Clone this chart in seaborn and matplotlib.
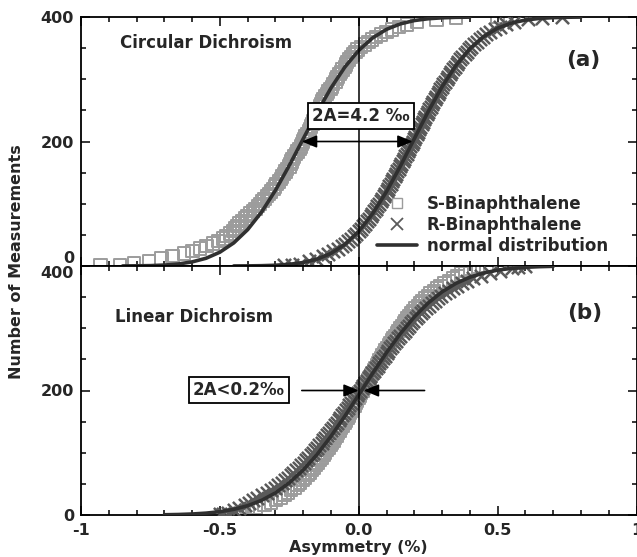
import matplotlib
matplotlib.use("Agg")
import matplotlib.pyplot as plt
import seaborn as sns
import pandas as pd
from matplotlib.lines import Line2D
from matplotlib.ticker import MultipleLocator, FixedLocator

# ---------------- data ----------------
# cumulative number of measurements (rank of the sorted value)
RANKS = [1, 2, 4, 8, 12, 16, 20, 24, 28, 32,
         36, 40, 44, 48, 52, 56, 60, 64, 68, 72,
         76, 80, 84, 88, 92, 96, 100, 104, 108, 112,
         116, 120, 124, 128, 132, 136, 140, 144, 148, 152,
         156, 160, 164, 168, 172, 176, 180, 184, 188, 192,
         196, 200, 204, 208, 212, 216, 220, 224, 228, 232,
         236, 240, 244, 248, 252, 256, 260, 264, 268, 272,
         276, 280, 284, 288, 292, 296, 300, 304, 308, 312,
         316, 320, 324, 328, 332, 336, 340, 344, 348, 352,
         356, 360, 364, 368, 372, 376, 380, 384, 388, 392,
         396, 398, 400]

# (a) circular dichroism, sorted asymmetry values (%)
CD_S = [-0.93, -0.86, -0.81, -0.755, -0.71, -0.67, -0.63, -0.598, -0.572, -0.548,
        -0.525, -0.505, -0.489, -0.476, -0.464, -0.453, -0.445, -0.437, -0.429, -0.42,
        -0.408, -0.40, -0.392, -0.381, -0.371, -0.363, -0.355, -0.347, -0.339, -0.331,
        -0.323, -0.315, -0.307, -0.302, -0.296, -0.288, -0.28, -0.276, -0.269, -0.263,
        -0.259, -0.25, -0.246, -0.242, -0.238, -0.233, -0.225, -0.221, -0.214, -0.208,
        -0.204, -0.20, -0.196, -0.192, -0.186, -0.179, -0.175, -0.171, -0.167, -0.163,
        -0.159, -0.155, -0.151, -0.147, -0.143, -0.139, -0.135, -0.131, -0.127, -0.121,
        -0.114, -0.11, -0.102, -0.097, -0.092, -0.084, -0.08, -0.076, -0.069, -0.063,
        -0.058, -0.05, -0.046, -0.042, -0.036, -0.028, -0.02, -0.012, -0.004, 0.008,
        0.023, 0.035, 0.047, 0.062, 0.08, 0.10, 0.12, 0.144, 0.174, 0.21,
        0.28, 0.35, 0.50]
CD_R = [-0.27, -0.24, -0.21, -0.18, -0.155, -0.13, -0.11, -0.092, -0.075, -0.06,
        -0.048, -0.037, -0.027, -0.018, -0.009, 0.0, 0.007, 0.015, 0.022, 0.029,
        0.036, 0.043, 0.049, 0.055, 0.061, 0.067, 0.073, 0.079, 0.084, 0.09,
        0.095, 0.10, 0.105, 0.11, 0.115, 0.12, 0.125, 0.13, 0.135, 0.139,
        0.144, 0.149, 0.153, 0.158, 0.163, 0.167, 0.172, 0.176, 0.181, 0.185,
        0.19, 0.194, 0.199, 0.203, 0.208, 0.212, 0.217, 0.222, 0.226, 0.231,
        0.235, 0.24, 0.245, 0.249, 0.254, 0.259, 0.264, 0.269, 0.273, 0.279,
        0.284, 0.289, 0.294, 0.299, 0.305, 0.31, 0.316, 0.322, 0.327, 0.333,
        0.34, 0.346, 0.352, 0.359, 0.366, 0.373, 0.381, 0.388, 0.397, 0.405,
        0.415, 0.424, 0.435, 0.446, 0.459, 0.473, 0.489, 0.508, 0.53, 0.56,
        0.61, 0.66, 0.73]

# (b) linear dichroism
LD_S = [-0.44, -0.43, -0.42, -0.40, -0.37, -0.34, -0.316, -0.298, -0.282, -0.268,
        -0.255, -0.243, -0.232, -0.221, -0.211, -0.202, -0.193, -0.185, -0.177, -0.169,
        -0.161, -0.154, -0.147, -0.14, -0.134, -0.127, -0.121, -0.114, -0.108, -0.102,
        -0.096, -0.091, -0.085, -0.079, -0.074, -0.068, -0.063, -0.057, -0.052, -0.047,
        -0.041, -0.036, -0.031, -0.026, -0.021, -0.016, -0.011, -0.006, -0.001, 0.004,
        0.009, 0.014, 0.019, 0.024, 0.029, 0.034, 0.039, 0.045, 0.05, 0.055,
        0.06, 0.065, 0.07, 0.075, 0.081, 0.086, 0.091, 0.097, 0.102, 0.108,
        0.113, 0.119, 0.125, 0.131, 0.137, 0.143, 0.149, 0.156, 0.162, 0.169,
        0.176, 0.183, 0.19, 0.197, 0.205, 0.213, 0.221, 0.23, 0.239, 0.249,
        0.259, 0.27, 0.282, 0.294, 0.308, 0.324, 0.34, 0.355, 0.37, 0.385,
        0.40, 0.43, 0.46]
LD_R = [-0.50, -0.49, -0.47, -0.45, -0.43, -0.41, -0.395, -0.38, -0.366, -0.349,
        -0.332, -0.317, -0.303, -0.29, -0.278, -0.267, -0.256, -0.245, -0.235, -0.225,
        -0.216, -0.207, -0.198, -0.189, -0.181, -0.173, -0.165, -0.157, -0.149, -0.142,
        -0.134, -0.127, -0.12, -0.113, -0.106, -0.099, -0.092, -0.086, -0.079, -0.072,
        -0.066, -0.059, -0.053, -0.046, -0.04, -0.034, -0.027, -0.021, -0.015, -0.008,
        -0.002, 0.004, 0.011, 0.017, 0.023, 0.029, 0.036, 0.042, 0.048, 0.055,
        0.061, 0.068, 0.074, 0.081, 0.087, 0.094, 0.101, 0.107, 0.114, 0.121,
        0.128, 0.135, 0.143, 0.15, 0.158, 0.165, 0.173, 0.181, 0.189, 0.197,
        0.206, 0.215, 0.223, 0.233, 0.242, 0.252, 0.263, 0.274, 0.285, 0.297,
        0.31, 0.324, 0.338, 0.354, 0.372, 0.391, 0.413, 0.439, 0.471, 0.51,
        0.55, 0.575, 0.60]

# fitted normal distribution curves (x, cumulative count)
FIT_CD_S_X = [-0.85, -0.80, -0.75, -0.70, -0.65, -0.60, -0.55, -0.50, -0.45, -0.40,
              -0.35, -0.30, -0.25, -0.20, -0.15, -0.10, -0.05, 0.00, 0.05, 0.10, 0.15,
              0.20, 0.25, 0.30, 0.35, 0.40]
FIT_CD_S_N = [0.1, 0.3, 0.6, 1.5, 3.2, 6.6, 12.4, 22.2, 37.1, 58.4, 86.6, 121.5, 161.6,
              204.3, 246.7, 286.0, 319.6, 346.4, 366.4, 380.2, 389.0, 394.3, 397.2,
              398.7, 399.5, 399.8]
FIT_CD_R_X = [-0.45, -0.40, -0.35, -0.30, -0.25, -0.20, -0.15, -0.10, -0.05, 0.00, 0.05,
              0.10, 0.15, 0.20, 0.25, 0.30, 0.35, 0.40, 0.45, 0.50, 0.55, 0.60, 0.65,
              0.70, 0.75, 0.80]
FIT_CD_R_N = [0.1, 0.2, 0.5, 1.2, 2.7, 5.6, 11.0, 20.2, 34.7, 55.8, 84.1, 119.5, 160.5,
              204.4, 248.0, 288.0, 322.2, 349.0, 368.7, 382.0, 390.3, 395.1, 397.7,
              399.0, 399.6, 399.9]
FIT_LD_X = [-0.70, -0.65, -0.60, -0.55, -0.50, -0.45, -0.40, -0.35, -0.30, -0.25, -0.20,
            -0.15, -0.10, -0.05, 0.00, 0.05, 0.10, 0.15, 0.20, 0.25, 0.30, 0.35, 0.40,
            0.45, 0.50, 0.55, 0.60, 0.65, 0.70]
FIT_LD_N = [0.4, 0.8, 1.6, 3.0, 5.3, 9.1, 14.9, 23.5, 35.5, 51.7, 72.2, 97.3, 126.5,
            158.8, 193.1, 227.6, 260.9, 291.5, 318.2, 340.6, 358.5, 372.1, 382.0, 388.8,
            393.4, 396.2, 397.9, 398.9, 399.5]

X_TICKS = [-1, -0.5, 0, 0.5, 1]
X_TICK_LABELS = ["-1", "-0.5", "0.0", "0.5", "1"]
Y_TICKS = [0, 200, 400]
Y_TICK_LABELS = ["0", "200", "400"]
LEGEND_LABELS = ["S-Binaphthalene", "R-Binaphthalene", "normal distribution"]

# ---------------- styling ----------------
sns.set_theme(style="ticks")
plt.rcParams["font.family"] = ["DejaVu Sans"]
plt.rcParams["font.weight"] = "bold"
plt.rcParams["axes.labelweight"] = "bold"

S_COLOR = "#9c9c9c"
R_COLOR = "#5a5a5a"
FIT_COLOR = "#303030"
FONT = 12

fig = plt.figure(figsize=(6.37, 5.57), dpi=100)
W = 637.0
H = 557.0
left = 81 / W
width = 555.5 / W
hgt = 249 / H
ax_a = fig.add_axes([left, 1 - 266 / H, width, hgt])
ax_b = fig.add_axes([left, 1 - 515 / H, width, hgt])


def draw_panel(ax, s_vals, r_vals, fits):
    dfs = pd.DataFrame({"x": s_vals, "n": RANKS})
    dfr = pd.DataFrame({"x": r_vals, "n": RANKS})
    sns.scatterplot(data=dfs, x="x", y="n", ax=ax, marker="s", s=80,
                    facecolor="none", edgecolor=S_COLOR, linewidth=1.4,
                    legend=False, zorder=2)
    sns.scatterplot(data=dfr, x="x", y="n", ax=ax, marker="x", s=90,
                    color=R_COLOR, linewidth=1.8, legend=False, zorder=3)
    for fx, fn in fits:
        sns.lineplot(x=fx, y=fn, ax=ax, sort=False, estimator=None,
                     color=FIT_COLOR, lw=2.6, zorder=4)
    ax.axvline(0, color="black", lw=1.1, zorder=5)
    ax.set_xlim(-1, 1)
    ax.set_ylim(0, 400)
    ax.xaxis.set_major_locator(FixedLocator(X_TICKS))
    ax.xaxis.set_minor_locator(MultipleLocator(0.1))
    ax.yaxis.set_major_locator(FixedLocator(Y_TICKS))
    ax.yaxis.set_minor_locator(MultipleLocator(50))
    ax.set_yticklabels(Y_TICK_LABELS)
    ax.tick_params(which="both", direction="in", top=True, right=True,
                   width=1.1, color="black", labelsize=11.5, pad=5)
    ax.tick_params(which="major", length=6.5)
    ax.tick_params(which="minor", length=3.5)
    for sp in ax.spines.values():
        sp.set_linewidth(1.3)
        sp.set_color("black")
    ax.set_xlabel("")
    ax.set_ylabel("")
    for lbl in ax.get_yticklabels():
        lbl.set_fontweight("bold")


draw_panel(ax_a, CD_S, CD_R, [(FIT_CD_S_X, FIT_CD_S_N), (FIT_CD_R_X, FIT_CD_R_N)])
draw_panel(ax_b, LD_S, LD_R, [(FIT_LD_X, FIT_LD_N)])

ax_a.tick_params(labelbottom=False)
ax_b.set_xticklabels(X_TICK_LABELS)
for lbl in ax_b.get_xticklabels():
    lbl.set_fontweight("bold")
ax_b.tick_params(axis="x", pad=6)
ax_a.get_yticklabels()[0].set_va("bottom")
ax_b.get_yticklabels()[-1].set_va("top")

ax_b.set_xlabel("Asymmetry (%)", fontsize=11.5, fontweight="bold", labelpad=1)
fig.text(17 / W, 1 - 262 / H, "Number of Measurements", rotation=90,
         ha="center", va="center", fontsize=11.5, fontweight="bold")

# panel texts
ax_a.text(-0.86, 358, "Circular Dichroism", fontsize=FONT, fontweight="bold",
          ha="left", va="center")
ax_b.text(-0.878, 318, "Linear Dichroism", fontsize=FONT, fontweight="bold",
          ha="left", va="center")
ax_a.text(0.745, 331, "(a)", fontsize=15.5, fontweight="bold", ha="left", va="center")
ax_b.text(0.752, 324, "(b)", fontsize=15.5, fontweight="bold", ha="left", va="center")

box = dict(boxstyle="square,pad=0.25", fc="white", ec="black", lw=1.3)
ax_a.text(0.007, 241, "2A=4.2 ‰", fontsize=FONT, fontweight="bold",
          ha="center", va="center", bbox=box, zorder=8)
ax_b.text(-0.432, 201, "2A<0.2‰", fontsize=FONT, fontweight="bold",
          ha="center", va="center", bbox=box, zorder=8)

astyle = "-|>,head_length=0.6,head_width=0.25"
ax_a.annotate("", xy=(-0.205, 200), xytext=(0.194, 200),
              arrowprops=dict(arrowstyle="<|-|>,head_length=0.6,head_width=0.25",
                              color="black", lw=1.2, shrinkA=0, shrinkB=0,
                              mutation_scale=15), zorder=7)
ax_b.annotate("", xy=(0.0, 200), xytext=(-0.205, 200),
              arrowprops=dict(arrowstyle=astyle, color="black", lw=1.2,
                              shrinkA=0, shrinkB=0, mutation_scale=15), zorder=7)
ax_b.annotate("", xy=(0.018, 200), xytext=(0.237, 200),
              arrowprops=dict(arrowstyle=astyle, color="black", lw=1.2,
                              shrinkA=0, shrinkB=0, mutation_scale=15), zorder=7)

# legend
handles = [
    Line2D([], [], marker="s", ls="none", mfc="none", mec=S_COLOR, ms=7, mew=1.0),
    Line2D([], [], marker="x", ls="none", color=R_COLOR, ms=8, mew=1.3),
    Line2D([], [], color=FIT_COLOR, lw=2.6),
]
ax_a.legend(handles, LEGEND_LABELS, loc="center left",
            bbox_to_anchor=((377 - 81) / 555.5, (266 - 225) / 249),
            frameon=False, prop={"weight": "bold", "size": FONT},
            handlelength=2.4, handletextpad=0.6, labelspacing=0.2,
            borderpad=0, borderaxespad=0)

fig.savefig("out.png", dpi=100)
